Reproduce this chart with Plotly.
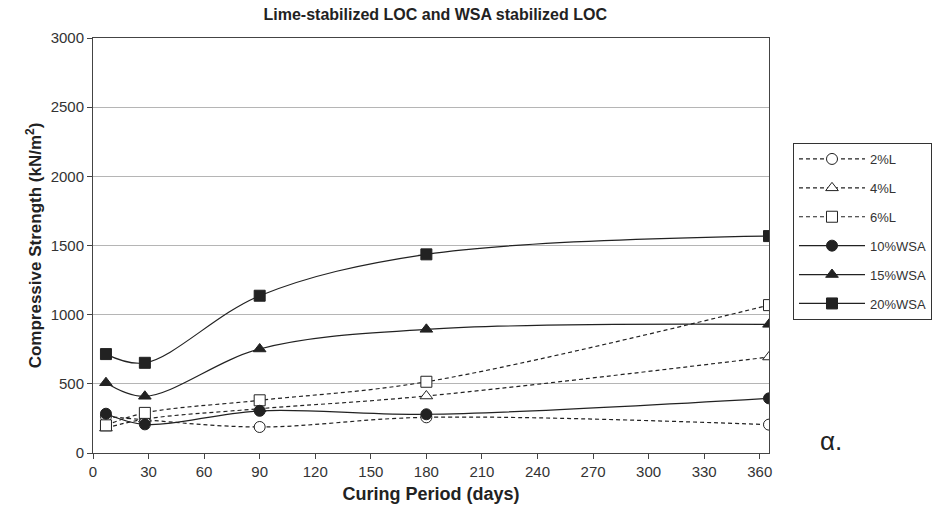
import plotly.graph_objects as go

# Curing period (days) and unconfined compressive strength (kN/m²)
days = [7, 28, 90, 180, 365]

series_names = ["2%L", "4%L", "6%L", "10%WSA", "15%WSA", "20%WSA"]
lime_2 = [265, 240, 188, 258, 205]
lime_4 = [180, 245, 320, 412, 694]
lime_6 = [200, 290, 381, 515, 1069]
wsa_10 = [284, 207, 305, 280, 395]
wsa_15 = [508, 410, 752, 894, 930]
wsa_20 = [715, 652, 1137, 1436, 1568]

x_ticks = list(range(0, 361, 30))
y_ticks = list(range(0, 3001, 500))

INK = "#222222"
FONT = "Liberation Sans, Arial, sans-serif"

styles = [
    (lime_2, "circle", "white", "dash"),
    (lime_4, "triangle-up", "white", "dash"),
    (lime_6, "square", "white", "dash"),
    (wsa_10, "circle", INK, "solid"),
    (wsa_15, "triangle-up", INK, "solid"),
    (wsa_20, "square", INK, "solid"),
]

fig = go.Figure()
for name, (vals, sym, fill, dash) in zip(series_names, styles):
    fig.add_trace(go.Scatter(
        x=days, y=vals, name=name, legendgroup=name,
        mode="lines+markers",
        line=dict(color=INK, width=1.2, dash="4px,3px" if dash == "dash" else "solid",
                  shape="spline", smoothing=1.0),
        marker=dict(symbol=sym, size=11, color=fill, line=dict(color=INK, width=1)),
    ))

fig.update_layout(
    width=933, height=507,
    margin=dict(l=93, r=164, t=38, b=54, autoexpand=False),
    paper_bgcolor="white", plot_bgcolor="white",
    font=dict(family=FONT, color="#333333", size=14),
    title=dict(text="<b>Lime-stabilized LOC and WSA stabilized LOC</b>",
               x=0.4665, xanchor="center", y=0.972, yanchor="middle",
               font=dict(size=16, color="#222222")),
    legend=dict(x=1.0355, y=0.747, xanchor="left", yanchor="top",
                bordercolor="#333333", borderwidth=1, bgcolor="white",
                font=dict(size=13, color="#333333"), tracegroupgap=9,
                itemwidth=66),
    xaxis=dict(
        range=[0, 365], tickmode="array", tickvals=x_ticks,
        showgrid=False, zeroline=False,
        showline=True, linecolor="#444444", linewidth=1, mirror=True,
        ticks="outside", ticklen=5, tickcolor="#444444",
        tickfont=dict(size=15),
        title=dict(text="<b>Curing Period (days)</b>", font=dict(size=18, color="#222222"),
                   standoff=8),
    ),
    yaxis=dict(
        range=[0, 3000], tickmode="array", tickvals=y_ticks,
        showgrid=True, gridcolor="#b5b5b5", gridwidth=1, zeroline=False,
        showline=True, linecolor="#444444", linewidth=1, mirror=True,
        ticks="outside", ticklen=5, tickcolor="#444444",
        tickfont=dict(size=15),
        title=dict(text="<b>Compressive Strength (kN/m<sup>2</sup>)</b>",
                   font=dict(size=17, color="#222222"), standoff=4),
    ),
)

fig.add_annotation(text="α.", xref="paper", yref="paper", x=1.092, y=0.03,
                   xanchor="center", yanchor="middle", showarrow=False,
                   font=dict(size=26, color="#222222", family=FONT))

fig.write_html("out.html")
